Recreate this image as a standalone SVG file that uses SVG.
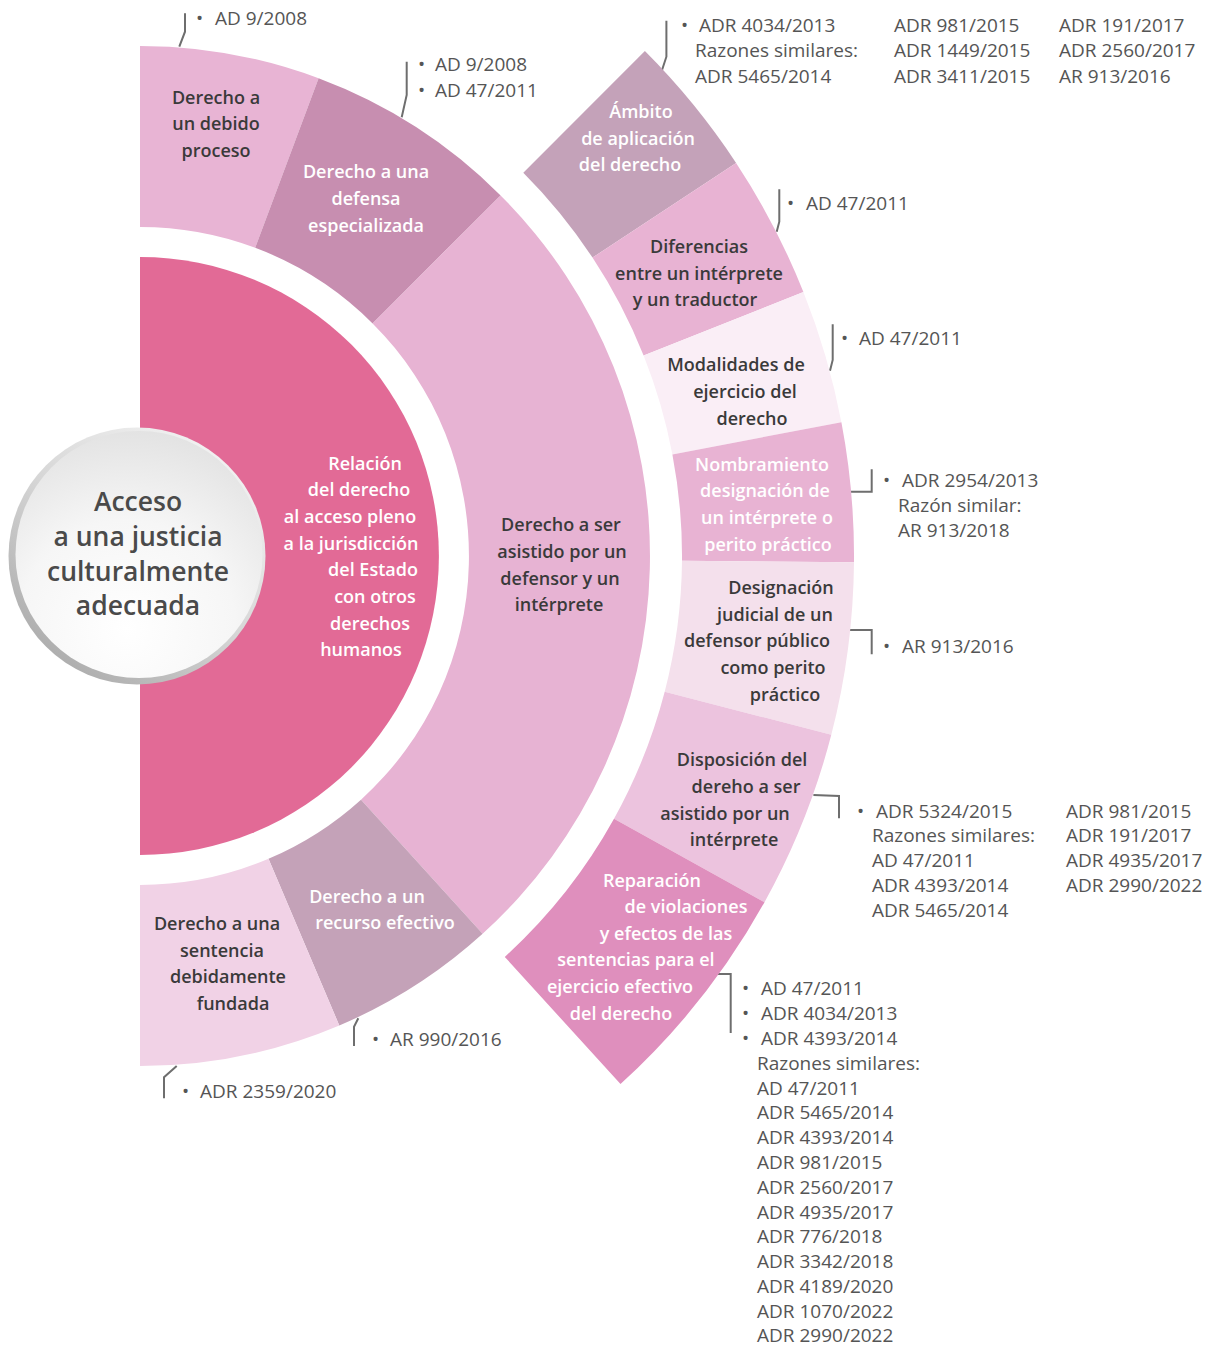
<svg xmlns="http://www.w3.org/2000/svg" width="1217" height="1346" viewBox="0 0 1217 1346">
<defs>
<linearGradient id="ringG" x1="0.15" y1="0.95" x2="0.85" y2="0.05">
<stop offset="0" stop-color="#a9a9a9"/>
<stop offset="0.5" stop-color="#d6d6d6"/>
<stop offset="1" stop-color="#f4f4f4"/>
</linearGradient>
<radialGradient id="faceG" cx="0.45" cy="0.8" r="0.8">
<stop offset="0" stop-color="#ffffff"/>
<stop offset="0.55" stop-color="#f6f6f6"/>
<stop offset="1" stop-color="#e3e3e3"/>
</radialGradient>
</defs>
<style>
.lbl{font-family:"Open Sans","Noto Sans",sans-serif;font-weight:600;font-size:18px;text-anchor:middle}
.dk{fill:#3a3a3a}
.wt{fill:#ffffff}
.ref{font-family:"Open Sans","Noto Sans",sans-serif;font-size:19px;fill:#555555}
.br{fill:none;stroke:#6e6e6e;stroke-width:2}
.ttl{font-family:"Open Sans","Noto Sans",sans-serif;font-weight:600;font-size:26.5px;fill:#4a4a4a;text-anchor:middle}
</style>
<rect width="1217" height="1346" fill="#ffffff"/>

<g id="connectors">
<path class="br" d="M179.3,46.7 L185,31.7 L185,13.3"/>
<path class="br" d="M401.7,117.3 L406.7,95 L406.7,61.7"/>
<path class="br" d="M661.8,70.7 L666.4,56.7 L666.4,20.7"/>
<path class="br" d="M776.7,231.7 L779.3,221.7 L779.3,189.3"/>
<path class="br" d="M830,370.7 L832.7,360 L832.7,324.3"/>
<path class="br" d="M850.7,491.7 L871.7,491.7 L871.7,469.3"/>
<path class="br" d="M850,630 L871.7,630 L871.7,654.3"/>
<path class="br" d="M813.4,795 L839,796 L839,818.3"/>
<path class="br" d="M718,974 L730.7,974 L730.7,1033"/>
<path class="br" d="M358.3,1018.3 L354,1026.7 L354,1046"/>
<path class="br" d="M176.7,1066 L164,1077.3 L164,1098.3"/>
</g>

<g id="node-relacion">
<path d="M140,257 A299,299 0 0 1 140,855 Z" fill="#e26a96"/>
<text class="lbl wt"><tspan x="365" y="469.5">Relación</tspan><tspan x="359" y="496.2">del derecho</tspan><tspan x="350" y="522.9">al acceso pleno</tspan><tspan x="351" y="549.6">a la jurisdicción</tspan><tspan x="373" y="576.3">del Estado</tspan><tspan x="375" y="603">con otros</tspan><tspan x="370" y="629.7">derechos</tspan><tspan x="361" y="656.4">humanos</tspan></text>
</g>

<g id="node-acceso">
<circle cx="137" cy="556" r="128.5" fill="url(#ringG)"/>
<circle cx="139" cy="554.5" r="123.5" fill="url(#faceG)"/>
<text class="ttl"><tspan x="138" y="511">Acceso</tspan><tspan x="138" y="546">a una justicia</tspan><tspan x="138" y="581">culturalmente</tspan><tspan x="138" y="615">adecuada</tspan></text>
</g>

<g id="node-debido-proceso">
<path d="M140,46 A510,510 0 0 1 318.6,78.3 L255.2,247.8 A329,329 0 0 0 140,227 Z" fill="#e8b4d4"/>
<text class="lbl dk"><tspan x="216" y="103.5">Derecho a</tspan><tspan x="216" y="129.5">un debido</tspan><tspan x="216" y="156.5">proceso</tspan></text>
</g>

<g id="node-defensa">
<path d="M318.6,78.3 A510,510 0 0 1 500.6,195.4 L372.6,323.4 A329,329 0 0 0 255.2,247.8 Z" fill="#c78eb0"/>
<text class="lbl wt"><tspan x="366" y="177.5">Derecho a una</tspan><tspan x="366" y="204.5">defensa</tspan><tspan x="366" y="231.5">especializada</tspan></text>
</g>

<g id="node-asistido">
<path d="M500.6,195.4 A510,510 0 0 1 482.6,933.8 L361,799.7 A329,329 0 0 0 372.6,323.4 Z" fill="#e7b3d3"/>
<text class="lbl dk"><tspan x="561" y="530.5">Derecho a ser</tspan><tspan x="562" y="557.5">asistido por un</tspan><tspan x="560" y="584.5">defensor y un</tspan><tspan x="559" y="610.5">intérprete</tspan></text>
</g>

<g id="node-recurso">
<path d="M482.6,933.8 A510,510 0 0 1 339.3,1025.5 L268.5,858.8 A329,329 0 0 0 361,799.7 Z" fill="#c4a2b8"/>
<text class="lbl wt"><tspan x="367" y="903">Derecho a un</tspan><tspan x="385" y="929">recurso efectivo</tspan></text>
</g>

<g id="node-sentencia">
<path d="M339.3,1025.5 A510,510 0 0 1 140,1066 L140,885 A329,329 0 0 0 268.5,858.8 Z" fill="#f1d2e6"/>
<text class="lbl dk"><tspan x="217" y="929.5">Derecho a una</tspan><tspan x="222" y="956.5">sentencia</tspan><tspan x="228" y="983">debidamente</tspan><tspan x="233" y="1009.5">fundada</tspan></text>
</g>

<g id="node-ambito">
<path d="M644.9,51.1 A714,714 0 0 1 736.1,163 L592.5,257.6 A542,542 0 0 0 523.3,172.7 Z" fill="#c4a2b9"/>
<text class="lbl wt"><tspan x="641" y="117.5">Ámbito</tspan><tspan x="638" y="144.5">de aplicación</tspan><tspan x="630" y="171">del derecho</tspan></text>
</g>

<g id="node-diferencias">
<path d="M736.1,163 A714,714 0 0 1 803.4,292 L643.6,355.6 A542,542 0 0 0 592.5,257.6 Z" fill="#e8b3d3"/>
<text class="lbl dk"><tspan x="699" y="252.5">Diferencias</tspan><tspan x="699" y="279.5">entre un intérprete</tspan><tspan x="695" y="305.5">y un traductor</tspan></text>
</g>

<g id="node-modalidades">
<path d="M803.4,292 A714,714 0 0 1 841.4,422.2 L672.4,454.4 A542,542 0 0 0 643.6,355.6 Z" fill="#faeef6"/>
<text class="lbl dk"><tspan x="736" y="370.5">Modalidades de</tspan><tspan x="745" y="397.5">ejercicio del</tspan><tspan x="752" y="424.5">derecho</tspan></text>
</g>

<g id="node-nombramiento">
<path d="M841.4,422.2 A714,714 0 0 1 854,562.2 L682,560.7 A542,542 0 0 0 672.4,454.4 Z" fill="#e8b3d3"/>
<text class="lbl wt"><tspan x="762" y="470.5">Nombramiento</tspan><tspan x="765" y="497">designación de</tspan><tspan x="767" y="523.5">un intérprete o</tspan><tspan x="768" y="550.5">perito práctico</tspan></text>
</g>

<g id="node-designacion">
<path d="M854,562.2 A714,714 0 0 1 831.3,734.8 L664.7,691.7 A542,542 0 0 0 682,560.7 Z" fill="#f4e0ec"/>
<text class="lbl dk"><tspan x="781" y="593.5">Designación</tspan><tspan x="775" y="620.5">judicial de un</tspan><tspan x="757" y="646.5">defensor público</tspan><tspan x="773" y="673.5">como perito</tspan><tspan x="785" y="700.5">práctico</tspan></text>
</g>

<g id="node-disposicion">
<path d="M831.3,734.8 A714,714 0 0 1 764.5,902.2 L614,818.8 A542,542 0 0 0 664.7,691.7 Z" fill="#ecc3de"/>
<text class="lbl dk"><tspan x="742" y="765.5">Disposición del</tspan><tspan x="746" y="792.5">dereho a ser</tspan><tspan x="725" y="819.5">asistido por un</tspan><tspan x="734" y="845.5">intérprete</tspan></text>
</g>

<g id="node-reparacion">
<path d="M764.5,902.2 A714,714 0 0 1 620.5,1084.1 L504.8,956.9 A542,542 0 0 0 614,818.8 Z" fill="#df8fbd"/>
<text class="lbl wt"><tspan x="652" y="887">Reparación</tspan><tspan x="686" y="913">de violaciones</tspan><tspan x="666" y="939.5">y efectos de las</tspan><tspan x="636" y="966">sentencias para el</tspan><tspan x="620" y="993">ejercicio efectivo</tspan><tspan x="621" y="1019.5">del derecho</tspan></text>
</g>

<g id="refs-debido-proceso" class="ref">
<text x="196" y="25">•</text><text x="215" y="25">AD 9/2008</text>
</g>
<g id="refs-defensa" class="ref">
<text x="418" y="71">•</text><text x="435" y="71">AD 9/2008</text>
<text x="418" y="97">•</text><text x="435" y="97">AD 47/2011</text>
</g>
<g id="refs-ambito" class="ref">
<text x="681" y="32">•</text><text x="699" y="32">ADR 4034/2013</text>
<text x="695" y="57">Razones similares:</text>
<text x="695" y="83">ADR 5465/2014</text>
<text x="894" y="32">ADR 981/2015</text>
<text x="894" y="57">ADR 1449/2015</text>
<text x="894" y="83">ADR 3411/2015</text>
<text x="1059" y="32">ADR 191/2017</text>
<text x="1059" y="57">ADR 2560/2017</text>
<text x="1059" y="83">AR 913/2016</text>
</g>
<g id="refs-diferencias" class="ref">
<text x="787" y="210">•</text><text x="806" y="210">AD 47/2011</text>
</g>
<g id="refs-modalidades" class="ref">
<text x="841" y="345">•</text><text x="859" y="345">AD 47/2011</text>
</g>
<g id="refs-nombramiento" class="ref">
<text x="883" y="487">•</text><text x="902" y="487">ADR 2954/2013</text>
<text x="898" y="512">Razón similar:</text>
<text x="898" y="537">AR 913/2018</text>
</g>
<g id="refs-designacion" class="ref">
<text x="883" y="653">•</text><text x="902" y="653">AR 913/2016</text>
</g>
<g id="refs-disposicion" class="ref">
<text x="857" y="818">•</text><text x="876" y="818">ADR 5324/2015</text>
<text x="872" y="842">Razones similares:</text>
<text x="872" y="867">AD 47/2011</text>
<text x="872" y="892">ADR 4393/2014</text>
<text x="872" y="917">ADR 5465/2014</text>
<text x="1066" y="818">ADR 981/2015</text>
<text x="1066" y="842">ADR 191/2017</text>
<text x="1066" y="867">ADR 4935/2017</text>
<text x="1066" y="892">ADR 2990/2022</text>
</g>
<g id="refs-reparacion" class="ref">
<text x="742" y="995">•</text><text x="761" y="995">AD 47/2011</text>
<text x="742" y="1020">•</text><text x="761" y="1020">ADR 4034/2013</text>
<text x="742" y="1045">•</text><text x="761" y="1045">ADR 4393/2014</text>
<text x="757" y="1070">Razones similares:</text>
<text x="757" y="1095">AD 47/2011</text>
<text x="757" y="1119">ADR 5465/2014</text>
<text x="757" y="1144">ADR 4393/2014</text>
<text x="757" y="1169">ADR 981/2015</text>
<text x="757" y="1194">ADR 2560/2017</text>
<text x="757" y="1219">ADR 4935/2017</text>
<text x="757" y="1243">ADR 776/2018</text>
<text x="757" y="1268">ADR 3342/2018</text>
<text x="757" y="1293">ADR 4189/2020</text>
<text x="757" y="1318">ADR 1070/2022</text>
<text x="757" y="1342">ADR 2990/2022</text>
</g>
<g id="refs-recurso" class="ref">
<text x="372" y="1046">•</text><text x="390" y="1046">AR 990/2016</text>
</g>
<g id="refs-sentencia" class="ref">
<text x="182" y="1098">•</text><text x="200" y="1098">ADR 2359/2020</text>
</g>
</svg>
